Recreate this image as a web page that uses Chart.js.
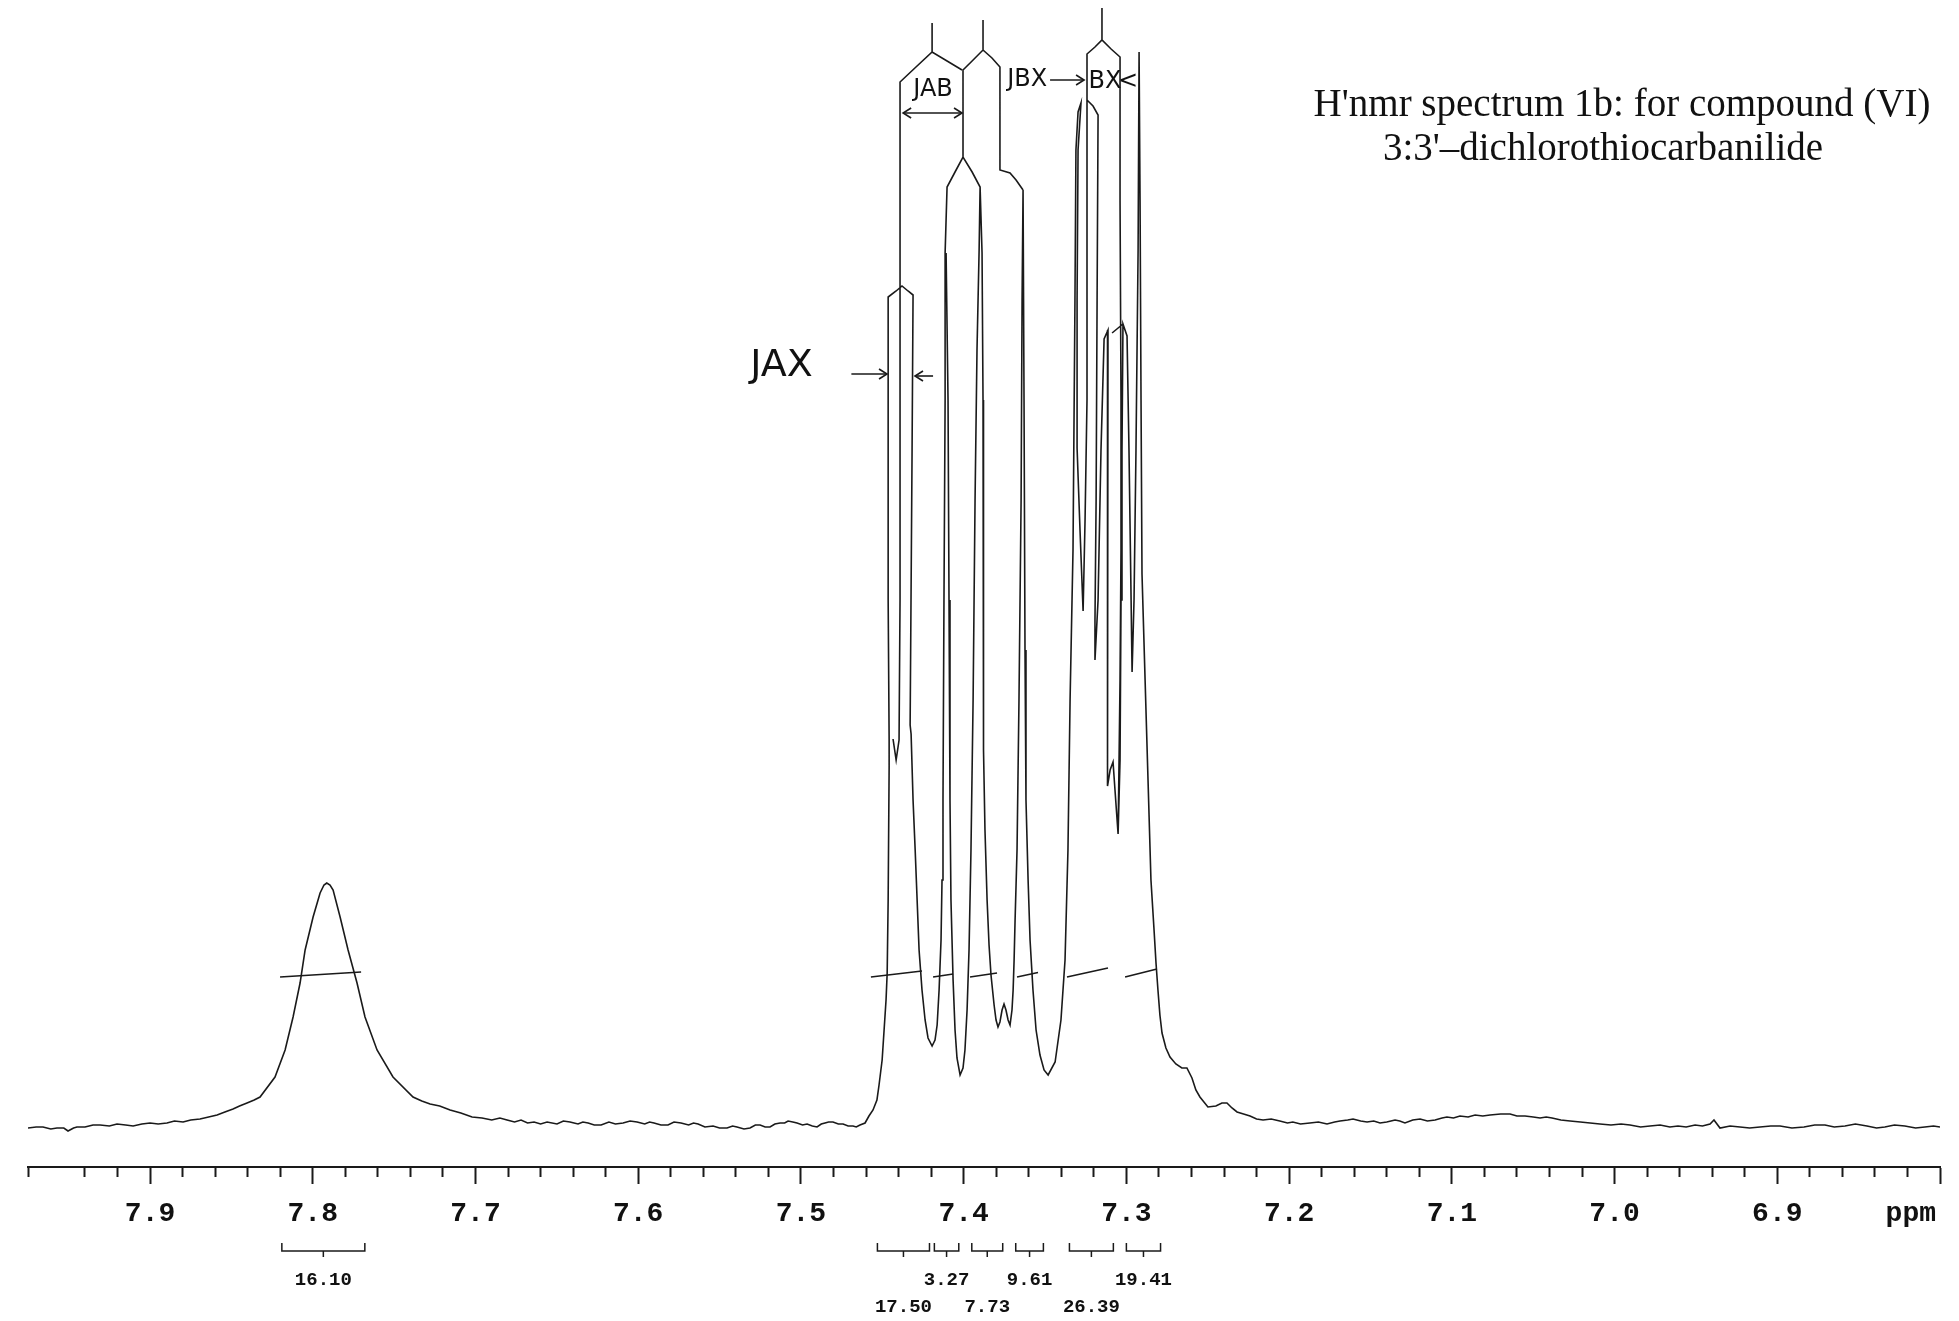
<!DOCTYPE html>
<html>
<head>
<meta charset="utf-8">
<title>H'nmr spectrum 1b</title>
<script src="https://cdn.jsdelivr.net/npm/chart.js@4.4.1/dist/chart.umd.min.js"></script>
<style>
    html, body { margin: 0; padding: 0; background: #ffffff; }
    #wrap { width: 1959px; height: 1321px; }
</style>
</head>
<body>
<div id="wrap"><canvas id="nmrChart" width="1959" height="1321"></canvas></div>
<script>
// Values: [ppm, relative intensity]
const tickLabels = ['7.9', '7.8', '7.7', '7.6', '7.5', '7.4', '7.3', '7.2', '7.1', '7.0', '6.9'];

const baselineLeft = [
    [7.975, 3.9], [7.9700, 4.0], [7.9658, 4.0], [7.9610, 3.8], [7.9572, 3.9], [7.9530, 3.9],
    [7.9504, 3.6], [7.9470, 3.9], [7.9449, 4.0], [7.9400, 4.0], [7.9350, 4.2], [7.9307, 4.2],
    [7.9250, 4.1], [7.9203, 4.3], [7.9150, 4.2], [7.9104, 4.1], [7.9050, 4.3], [7.9000, 4.4],
    [7.8950, 4.3], [7.8896, 4.4], [7.8850, 4.6], [7.8797, 4.5], [7.8750, 4.7], [7.8693, 4.8],
    [7.8640, 5.0], [7.8588, 5.2], [7.8540, 5.5], [7.8490, 5.8], [7.8450, 6.1], [7.8404, 6.4],
    [7.8360, 6.7], [7.8324, 7.0]
];

const peak779 = [
    [7.8232, 9.0], [7.8170, 11.7], [7.8121, 15.0], [7.8078, 18.4], [7.8047, 21.7], [7.7998, 25.0],
    [7.7955, 27.4], [7.7931, 28.2], [7.7914, 28.4], [7.7894, 28.2], [7.7875, 27.7], [7.7832, 25.0],
    [7.7783, 21.7], [7.7728, 18.4], [7.7679, 15.0], [7.7605, 11.7], [7.7507, 9.0], [7.7384, 7.0],
    [7.7330, 6.6], [7.7279, 6.3], [7.7220, 6.1], [7.7156, 5.7], [7.7090, 5.4]
];

const baselineMid = [
    [7.7021, 5.0], [7.6960, 4.9], [7.6900, 4.7], [7.6850, 4.9], [7.6806, 4.7], [7.6760, 4.5],
    [7.6720, 4.7], [7.6680, 4.4], [7.6640, 4.5], [7.6600, 4.3], [7.6560, 4.5], [7.6499, 4.3],
    [7.6460, 4.6], [7.6419, 4.5], [7.6370, 4.3], [7.6340, 4.5], [7.6308, 4.4], [7.6270, 4.2],
    [7.6228, 4.2], [7.6180, 4.5], [7.6140, 4.3], [7.6093, 4.4], [7.6050, 4.6], [7.6007, 4.5],
    [7.5960, 4.3], [7.5930, 4.5], [7.5903, 4.4], [7.5860, 4.2], [7.5817, 4.2], [7.5780, 4.5],
    [7.5737, 4.4], [7.5690, 4.2], [7.5660, 4.4], [7.5632, 4.3], [7.5590, 4.0], [7.5540, 4.1],
    [7.5500, 3.9], [7.5454, 3.9], [7.5420, 4.1], [7.5393, 4.0], [7.5350, 3.8], [7.5313, 3.9],
    [7.5280, 4.2], [7.5251, 4.2], [7.5220, 4.0], [7.5190, 4.0], [7.5160, 4.3], [7.5128, 4.4],
    [7.5100, 4.4], [7.5079, 4.6], [7.5050, 4.5], [7.5024, 4.4], [7.4990, 4.2], [7.4962, 4.3],
    [7.4930, 4.1], [7.4901, 4.0], [7.4875, 4.3], [7.4852, 4.4], [7.4830, 4.5], [7.4803, 4.5],
    [7.4770, 4.3], [7.4741, 4.3], [7.4710, 4.1], [7.4680, 4.1], [7.4660, 4.0], [7.4637, 4.2],
    [7.4606, 4.4]
];

// one continuous pen stroke through the 7.46 - 7.23 multiplet
const multiplet = [
    [7.4582, 5.1], [7.4557, 5.7], [7.4533, 6.7], [7.4520, 8.2], [7.4501, 10.7], [7.4489, 13.7],
    [7.4477, 16.7], [7.4470, 19.4], [7.4464, 26.7], [7.4458, 40.0], [7.4458, 42.8], [7.4464, 56.7],
    [7.4464, 87.0], [7.4415, 87.6], [7.4379, 88.1], [7.4342, 87.6], [7.4311, 87.2], [7.4317, 71.7],
    [7.4329, 44.2], [7.4323, 43.3], [7.4311, 36.7], [7.4298, 31.7], [7.4286, 26.7], [7.4274, 21.7],
    [7.4256, 17.7], [7.4237, 14.7], [7.4219, 12.9], [7.4194, 12.1], [7.4176, 12.7], [7.4163, 14.2],
    [7.4151, 17.7], [7.4139, 22.7], [7.4133, 28.7], [7.4127, 36.7], [7.4121, 56.7], [7.4114, 76.7],
    [7.4114, 91.4], [7.4102, 98.0], [7.4053, 99.5], [7.4004, 101.0], [7.3948, 99.5], [7.3899, 98.0],
    [7.3887, 91.4], [7.3881, 76.7], [7.3881, 56.7], [7.3875, 41.7], [7.3869, 33.7], [7.3856, 26.7],
    [7.3844, 22.2], [7.3832, 19.2], [7.3813, 16.2], [7.3801, 14.7], [7.3789, 14.0], [7.3777, 14.5],
    [7.3764, 15.7], [7.3752, 16.3], [7.3740, 15.7], [7.3727, 14.7], [7.3715, 14.2], [7.3703, 15.7],
    [7.3696, 17.7], [7.3690, 20.7], [7.3684, 24.7], [7.3672, 31.7], [7.3660, 46.7], [7.3647, 66.7],
    [7.3641, 86.7], [7.3635, 97.7],
    [7.3629, 76.7], [7.3623, 51.7], [7.3617, 36.7], [7.3604, 28.7], [7.3592, 22.7], [7.3574, 17.7],
    [7.3555, 13.7], [7.3531, 11.2], [7.3506, 9.7], [7.3481, 9.2], [7.3438, 10.5], [7.3402, 14.7],
    [7.3377, 20.7], [7.3359, 31.7], [7.3346, 46.7], [7.3328, 61.7], [7.3316, 86.7], [7.3310, 101.7],
    [7.3297, 105.5], [7.3279, 106.4],
    [7.3297, 101.7], [7.3303, 86.7], [7.3303, 71.9], [7.3285, 63.7], [7.3266, 55.6],
    [7.3254, 64.7], [7.3242, 76.7], [7.3242, 96.7], [7.3242, 111.3],
    [7.3193, 112.0], [7.3150, 112.7], [7.3094, 111.8], [7.3039, 111.0],
    [7.3039, 96.7], [7.3033, 76.7], [7.3033, 61.7], [7.3039, 48.7], [7.3045, 40.7], [7.3051, 33.3],
    [7.3039, 40.7], [7.3033, 56.7], [7.3027, 71.7], [7.3021, 84.3],
    [7.2996, 83.1], [7.2984, 71.7], [7.2971, 56.7], [7.2965, 49.5],
    [7.2953, 56.7], [7.2941, 71.7], [7.2928, 91.7], [7.2922, 111.5],
    [7.2916, 96.7], [7.2910, 76.7], [7.2904, 59.3], [7.2885, 48.7], [7.2867, 38.7], [7.2849, 28.7],
    [7.2830, 23.7], [7.2818, 20.4], [7.2806, 17.7], [7.2794, 15.2], [7.2781, 13.4], [7.2757, 11.9],
    [7.2732, 11.0], [7.2696, 10.3], [7.2659, 9.9], [7.2628, 9.9], [7.2597, 8.9], [7.2573, 7.7],
    [7.2548, 7.0], [7.2499, 6.0], [7.2450, 6.1], [7.2413, 6.4], [7.2382, 6.4], [7.2351, 5.9],
    [7.2320, 5.5]
];

const baselineRight = [
    [7.2280, 5.3], [7.2240, 5.1], [7.2200, 4.8], [7.2160, 4.7], [7.2110, 4.8], [7.2057, 4.6],
    [7.2010, 4.4], [7.1977, 4.5], [7.1930, 4.3], [7.1872, 4.4], [7.1820, 4.5], [7.1767, 4.3],
    [7.1720, 4.5], [7.1687, 4.6], [7.1640, 4.7], [7.1607, 4.8], [7.1560, 4.6], [7.1521, 4.5],
    [7.1480, 4.6], [7.1441, 4.4], [7.1400, 4.5], [7.1349, 4.7], [7.1320, 4.6], [7.1288, 4.4],
    [7.1240, 4.7], [7.1195, 4.8], [7.1150, 4.6], [7.1103, 4.7], [7.1060, 4.9], [7.1030, 5.0],
    [7.0990, 4.9], [7.0950, 5.1], [7.0900, 5.0], [7.0857, 5.2], [7.0810, 5.1], [7.0765, 5.2],
    [7.0700, 5.3], [7.0642, 5.3], [7.0600, 5.1], [7.0550, 5.1], [7.0500, 5.0], [7.0458, 4.9],
    [7.0420, 5.0], [7.0384, 4.9], [7.0330, 4.7], [7.0273, 4.6], [7.0210, 4.5], [7.0150, 4.4],
    [7.0090, 4.3], [7.0022, 4.2], [6.9960, 4.3], [6.9905, 4.2], [6.9840, 4.0], [6.9782, 4.1],
    [6.9720, 4.2], [6.9660, 4.0], [6.9610, 4.1], [6.9560, 4.0], [6.9505, 4.2], [6.9460, 4.1],
    [6.9413, 4.3], [6.9389, 4.7], [6.9352, 3.9], [6.9290, 4.1], [6.9229, 4.0], [6.9170, 3.9],
    [6.9106, 4.0], [6.9040, 4.1], [6.8983, 4.1], [6.8910, 3.9], [6.8836, 4.0], [6.8770, 4.2],
    [6.8707, 4.2], [6.8650, 4.0], [6.8584, 4.1], [6.8520, 4.3], [6.8449, 4.1], [6.8390, 3.9],
    [6.8339, 4.0], [6.8280, 4.2], [6.8216, 4.1], [6.8150, 3.9], [6.8093, 4.0], [6.8040, 4.1],
    [6.8000, 4.0]
];

// extra pen strokes: overlapping lines and the hand-closed tops
const jaxLine = [
    [7.4434, 42.8], [7.4415, 40.7], [7.4397, 42.7], [7.4391, 56.7], [7.4391, 76.7], [7.4391, 96.7],
    [7.4391, 108.5], [7.4293, 110.0], [7.4194, 111.5], [7.4102, 110.6], [7.4010, 109.7]
];
const middleRoof = [
    [7.3635, 97.7], [7.3678, 98.7], [7.3715, 99.4], [7.3777, 99.7], [7.3777, 110.0], [7.3826, 110.9],
    [7.3881, 111.7], [7.3942, 110.7], [7.4004, 109.7], [7.4004, 101.0]
];
const middleDip = [
    [7.4108, 91.4], [7.4096, 76.7], [7.4090, 56.7], [7.4084, 36.7], [7.4078, 26.7], [7.4065, 18.7],
    [7.4053, 13.7], [7.4041, 10.9], [7.4022, 9.2], [7.4004, 9.9], [7.3992, 11.7], [7.3979, 15.7],
    [7.3967, 21.7], [7.3955, 31.7], [7.3942, 46.7], [7.3930, 66.7], [7.3918, 81.7], [7.3905, 91.7],
    [7.3899, 98.0]
];
const bxInner = [
    [7.3242, 106.7], [7.3205, 106.1], [7.3174, 105.2], [7.3180, 86.7], [7.3186, 66.7], [7.3193, 54.7],
    [7.3193, 50.7], [7.3174, 56.7], [7.3156, 71.7], [7.3137, 82.8], [7.3113, 83.7], [7.3119, 66.7],
    [7.3116, 51.7], [7.3113, 38.1], [7.3100, 39.7], [7.3082, 40.5], [7.3070, 37.7], [7.3051, 33.3]
];
const bxCap = [[7.3088, 83.4], [7.3021, 84.3]];
const topTicks = [
    [[7.4194, 111.5], [7.4194, 114.4]],
    [[7.3881, 111.7], [7.3881, 114.7]],
    [[7.3150, 112.7], [7.3150, 115.9]]
];

// hand-drawn integral trace pieces
const integralMarks = [
    [[7.8201, 19.0], [7.7703, 19.5]],
    [[7.4570, 19.0], [7.4256, 19.6]],
    [[7.4188, 19.0], [7.4065, 19.3]],
    [[7.3961, 19.0], [7.3795, 19.4]],
    [[7.3672, 19.0], [7.3543, 19.45]],
    [[7.3365, 19.0], [7.3113, 19.9]],
    [[7.3008, 19.0], [7.2812, 19.8]]
];

// printed integration regions and values
const integralRanges = [
    [7.819, 7.768], [7.453, 7.421], [7.418, 7.403], [7.395, 7.376],
    [7.368, 7.351], [7.335, 7.308], [7.300, 7.279]
];
const integralValues = ['16.10', '17.50', '3.27', '7.73', '9.61', '26.39', '19.41'];

// handwritten notes, anchored in data units
const handNotes = [
    { text: 'JAX', ppm: 7.512, val: 80.1 },
    { text: 'JAB', ppm: 7.4188, val: 107.7 },
    { text: 'JBX', ppm: 7.3610, val: 108.7 },
    { text: 'BX', ppm: 7.3131, val: 108.5 },
    { text: '<', ppm: 7.2990, val: 108.5 }
];
const handArrows = [
    { from: 7.469, to: 7.4471, val: 79.3, both: false },
    { from: 7.4188, to: 7.4299, val: 79.1, both: false },
    { from: 7.4372, to: 7.4010, val: 105.4, both: true },
    { from: 7.3469, to: 7.3260, val: 108.7, both: false }
];

const titleLines = ["H'nmr spectrum 1b: for compound (VI)", "3:3'\u2013dichlorothiocarbanilide"];

function toPoints(strokes) {
    const out = [];
    strokes.forEach((s, i) => {
        if (i > 0) out.push({ x: s[0][0], y: null });
        s.forEach(p => out.push({ x: p[0], y: p[1] }));
    });
    return out;
}

function isMajor(v) {
    return Math.abs(v * 10 - Math.round(v * 10)) < 1e-6;
}

const traceData = toPoints([
    baselineLeft.concat(peak779, baselineMid, multiplet, baselineRight),
    jaxLine, middleRoof, middleDip, bxInner, bxCap
].concat(topTicks));

const integralData = toPoints(integralMarks);

const paperNotes = {
    id: 'paperNotes',
    afterDraw(chart) {
        const { ctx, chartArea } = chart;
        const xs = chart.scales.x;
        const ys = chart.scales.y;
        const base = chartArea.bottom;
        ctx.save();
        ctx.strokeStyle = '#1a1a1a';
        ctx.fillStyle = '#111111';

        // integration brackets under the axis
        ctx.lineWidth = 1.5;
        ctx.font = 'bold 19px "Liberation Mono", monospace';
        ctx.textAlign = 'center';
        ctx.textBaseline = 'middle';
        integralRanges.forEach((r, i) => {
            const x1 = xs.getPixelForValue(r[0]);
            const x2 = xs.getPixelForValue(r[1]);
            const xm = (x1 + x2) / 2;
            ctx.beginPath();
            ctx.moveTo(x1, base + 76);
            ctx.lineTo(x1, base + 84);
            ctx.lineTo(x2, base + 84);
            ctx.lineTo(x2, base + 76);
            ctx.moveTo(xm, base + 84);
            ctx.lineTo(xm, base + 90);
            ctx.stroke();
            ctx.fillText(integralValues[i], xm, base + (i % 2 === 0 ? 113 : 140));
        });

        // unit label at the end of the scale
        ctx.font = 'bold 28px "Liberation Mono", monospace';
        ctx.textAlign = 'right';
        ctx.fillText('ppm', chartArea.right - 4, base + 47);

        // handwriting
        ctx.textAlign = 'center';
        handNotes.forEach(n => {
            const big = n.text === 'JAX';
            ctx.font = (big ? '38px' : '24px') + ' "DejaVu Sans", sans-serif';
            ctx.fillText(n.text, xs.getPixelForValue(n.ppm), ys.getPixelForValue(n.val));
        });
        ctx.lineWidth = 1.6;
        const head = (x, y, dir) => {
            ctx.beginPath();
            ctx.moveTo(x - dir * 8, y - 5);
            ctx.lineTo(x, y);
            ctx.lineTo(x - dir * 8, y + 5);
            ctx.stroke();
        };
        handArrows.forEach(a => {
            const x1 = xs.getPixelForValue(a.from);
            const x2 = xs.getPixelForValue(a.to);
            const y = ys.getPixelForValue(a.val);
            ctx.beginPath();
            ctx.moveTo(x1, y);
            ctx.lineTo(x2, y);
            ctx.stroke();
            head(x2, y, Math.sign(x2 - x1));
            if (a.both) head(x1, y, Math.sign(x1 - x2));
        });

        // typed caption, top right
        ctx.font = '39px "Liberation Serif", serif';
        ctx.textBaseline = 'alphabetic';
        ctx.fillText(titleLines[0], chart.width - 337, 116);
        ctx.fillText(titleLines[1], chart.width - 356, 160);
        ctx.restore();
    }
};

document.addEventListener('DOMContentLoaded', function () {
    const ctx = document.getElementById('nmrChart').getContext('2d');
    new Chart(ctx, {
        type: 'line',
        data: {
            datasets: [{
                label: 'spectrum',
                data: traceData,
                borderColor: '#1a1a1a',
                borderWidth: 1.6,
                pointRadius: 0,
                tension: 0,
                fill: false,
                spanGaps: false
            }, {
                label: 'integral',
                data: integralData,
                borderColor: '#1a1a1a',
                borderWidth: 1.6,
                pointRadius: 0,
                tension: 0,
                fill: false,
                spanGaps: false
            }]
        },
        options: {
            responsive: false,
            animation: false,
            layout: { padding: { top: 7, left: 28, right: 19, bottom: 0 } },
            plugins: {
                legend: { display: false },
                tooltip: { enabled: false },
                title: { display: false }
            },
            scales: {
                x: {
                    type: 'linear',
                    reverse: true,
                    min: 6.8,
                    max: 7.975,
                    afterFit: scale => { scale.height = 154; },
                    border: { display: true, color: '#1a1a1a', width: 2 },
                    grid: {
                        drawOnChartArea: false,
                        drawTicks: true,
                        tickLength: 17,
                        tickWidth: 2,
                        tickColor: '#1a1a1a',
                        tickBorderDash: c => (c.tick && isMajor(c.tick.value)) ? [] : [9, 60]
                    },
                    ticks: {
                        stepSize: 0.02,
                        autoSkip: false,
                        maxRotation: 0,
                        padding: 13,
                        color: '#111111',
                        font: { family: '"Liberation Mono", monospace', size: 28, weight: 'bold' },
                        callback: v => {
                            const s = Number(v).toFixed(1);
                            return isMajor(v) && tickLabels.includes(s) ? s : '';
                        }
                    }
                },
                y: {
                    display: false,
                    min: 0,
                    max: 116
                }
            }
        },
        plugins: [paperNotes]
    });
});
</script>
</body>
</html>
